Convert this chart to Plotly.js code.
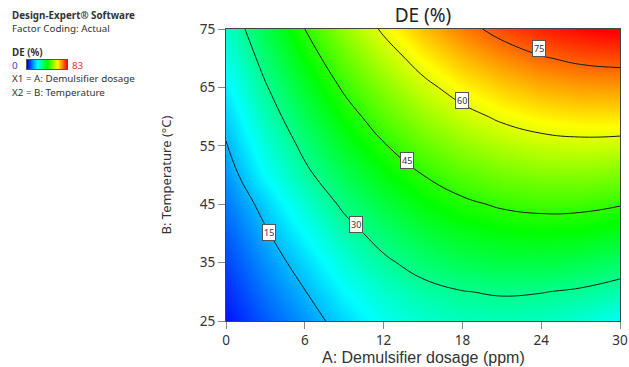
<!DOCTYPE html>
<html>
<head>
<meta charset="utf-8">
<script src="https://cdn.plot.ly/plotly-3.0.1.min.js"></script>
<style>html,body{margin:0;padding:0;background:#fff;}#chart{width:629px;height:367px;}</style>
</head>
<body>
<div id="chart"></div>
<script>
// A: Demulsifier dosage (ppm)
const dosage = [0, 3, 6, 9, 12, 15, 18, 21, 24, 27, 30];
// B: Temperature (°C)
const temperature = [25, 30, 35, 40, 45, 50, 55, 60, 65, 70, 75];
const de = [
  [1.5, 7.2, 12.2, 17.5, 22.0, 24.6, 26.1, 26.5, 25.9, 24.2, 21.5],
  [3.5, 9.5, 14.8, 20.5, 25.0, 28.0, 29.8, 30.6, 30.2, 29.2, 27.4],
  [5.5, 11.8, 17.6, 23.8, 28.8, 32.5, 34.8, 36.0, 36.1, 35.2, 33.3],
  [7.5, 14.3, 21.0, 27.5, 32.6, 36.6, 39.2, 40.8, 41.4, 40.9, 39.3],
  [9.8, 17.0, 24.6, 31.2, 36.5, 40.8, 43.8, 45.8, 46.7, 46.6, 45.4],
  [12.2, 20.9, 28.5, 35.0, 40.5, 45.0, 48.4, 50.8, 52.1, 52.4, 51.6],
  [14.6, 23.6, 31.6, 38.6, 44.5, 49.3, 53.1, 55.9, 57.6, 58.2, 57.9],
  [17.0, 26.5, 34.9, 42.2, 48.5, 53.7, 57.9, 61.1, 63.2, 64.2, 64.2],
  [19.6, 29.4, 38.2, 45.9, 52.6, 58.2, 62.8, 66.3, 68.8, 70.2, 70.6],
  [22.2, 32.4, 41.6, 49.7, 56.7, 62.8, 67.7, 71.6, 74.5, 76.3, 77.1],
  [24.9, 35.5, 45.0, 53.5, 61.0, 67.4, 72.8, 77.1, 80.3, 82.5, 83.7]
];
const deMin = 0;
const deMax = 83;
const contourLevels = [15, 30, 45, 60, 75];
// label positions on each contour (dosage, temperature)
const labelDosage = [3.3, 9.9, 13.8, 18.0, 23.8];
const labelTemp = [40.2, 41.6, 52.4, 62.7, 71.6];
const xTicks = [0, 6, 12, 18, 24, 30];
const yTicks = [25, 35, 45, 55, 65, 75];

const cs = [[0,'rgb(0,0,255)'],[0.25,'rgb(0,255,255)'],[0.5,'rgb(0,255,0)'],[0.75,'rgb(255,255,0)'],[1,'rgb(255,0,0)']];
const W = 629, H = 367;
const px = v => v / W;
const py = v => (321 - v) / 292;

const traces = [
  {
    type: 'contour', x: dosage, y: temperature, z: de,
    colorscale: cs, zmin: deMin, zmax: deMax, zauto: false, showscale: false,
    contours: {start: contourLevels[0], end: contourLevels[contourLevels.length-1], size: contourLevels[1]-contourLevels[0], coloring: 'heatmap', showlabels: false},
    line: {color: '#1a1a1a', width: 1, smoothing: 1.3},
    hoverinfo: 'skip'
  },
  {
    type: 'heatmap', x: [0, 1], y: [0], z: [[deMin, deMax]],
    colorscale: cs, zmin: deMin, zmax: deMax, zsmooth: 'best', showscale: false,
    xaxis: 'x2', yaxis: 'y2', hoverinfo: 'skip'
  }
];

const txtColor = '#333';
const font = 'Noto Sans, Open Sans, sans-serif';
const annotations = [];
for (let i = 0; i < contourLevels.length; i++) {
  annotations.push({x: labelDosage[i], y: labelTemp[i], xref: 'x', yref: 'y', text: String(contourLevels[i]), showarrow: false,
    font: {family: font, size: 9, color: '#333'}, bgcolor: '#fff', bordercolor: '#555', borderwidth: 1, borderpad: 1});
}
const side = [
  {t: '<b>Design-Expert® Software</b><br>Factor Coding: Actual', x: 11, y: 21.5, s: 9.8, c: txtColor},
  {t: '<b>DE (%)</b><br><span style="color:#3a3ad0">0</span>', x: 11, y: 58.5, s: 9.8, c: txtColor},
  {t: '83', x: 71, y: 65, s: 9.8, c: '#e03030'},
  {t: 'X1 = A: Demulsifier dosage', x: 11, y: 78, s: 9.8, c: txtColor},
  {t: 'X2 = B: Temperature', x: 11, y: 92, s: 9.8, c: txtColor}
];
side.forEach(s => annotations.push({x: px(s.x), y: py(s.y), xref: 'paper', yref: 'paper', xanchor: 'left', yanchor: 'middle', align: 'left',
  borderpad: 0, text: s.t, showarrow: false, font: {family: font, size: s.s, color: s.c}}));
// x axis title, placed just under the tick labels
annotations.push({x: px(423), y: py(357.6), xref: 'paper', yref: 'paper', xanchor: 'center', yanchor: 'middle', borderpad: 0,
  text: 'A: Demulsifier dosage (ppm)', showarrow: false, font: {family: 'Liberation Sans, Arial, sans-serif', size: 16, color: '#333'}});

const axisCommon = {
  showgrid: false, zeroline: false, ticks: 'outside', ticklen: 7, tickcolor: '#888', tickwidth: 1,
  showline: true, mirror: true, linecolor: '#444', linewidth: 1,
  tickfont: {family: font, size: 13.5, color: '#333'}
};

const layout = {
  width: W, height: H,
  margin: {l: 0, r: 0, t: 29, b: 46},
  paper_bgcolor: '#fff', plot_bgcolor: '#fff',
  title: {text: 'DE (%)', x: 423 / W, xanchor: 'center', y: 1 - 15 / H, yanchor: 'middle', font: {family: font, size: 19, color: '#222'}},
  xaxis: Object.assign({}, axisCommon, {domain: [226 / W, 620 / W], range: [0, 30], tickvals: xTicks}),
  yaxis: Object.assign({}, axisCommon, {domain: [0, 1], range: [25, 75], tickvals: yTicks,
    title: {text: 'B: Temperature (°C)', font: {family: font, size: 13, color: '#333'}, standoff: 25}}),
  xaxis2: {domain: [27 / W, 67 / W], range: [0, 1], anchor: 'y2', showticklabels: false, ticks: '', showgrid: false, zeroline: false, showline: true, mirror: true, linecolor: '#555', linewidth: 1},
  yaxis2: {domain: [py(69), py(60)], range: [-0.5, 0.5], anchor: 'x2', showticklabels: false, ticks: '', showgrid: false, zeroline: false, showline: true, mirror: true, linecolor: '#555', linewidth: 1},
  annotations: annotations,
  showlegend: false
};

Plotly.newPlot('chart', traces, layout, {staticPlot: true, displayModeBar: false});
</script>
</body>
</html>
